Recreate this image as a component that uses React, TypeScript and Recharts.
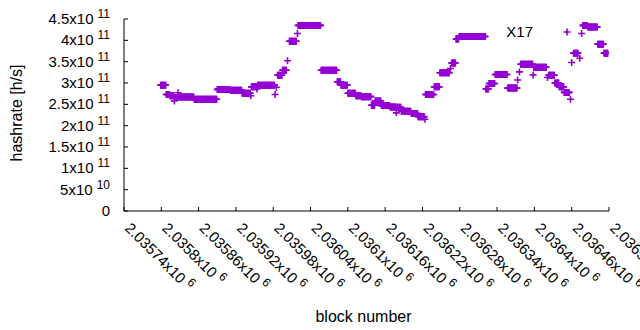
import { ScatterChart, Scatter, XAxis, YAxis, Legend } from "recharts";

const font = "'Liberation Sans', Arial, sans-serif";
const violet = "#9400d3";

const xTicks = [
  2035740, 2035800, 2035860, 2035920, 2035980, 2036040, 2036100, 2036160, 2036220, 2036280,
  2036340, 2036400, 2036460, 2036520,
];
const yTicks = [0, 5e10, 1e11, 1.5e11, 2e11, 2.5e11, 3e11, 3.5e11, 4e11, 4.5e11];

// runs of blocks that share one hashrate value
const runFirst = [
  2035799, 2035808, 2035814, 2035821, 2035822, 2035827, 2035828, 2035853, 2035890, 2035911,
  2035930, 2035944, 2035945, 2035954, 2035955, 2035983, 2035985, 2035987, 2035995, 2036003,
  2036006, 2036019, 2036020, 2036057, 2036083, 2036089, 2036100, 2036113, 2036122, 2036138,
  2036144, 2036154, 2036168, 2036178, 2036179, 2036186, 2036202, 2036213, 2036224, 2036225,
  2036239, 2036248, 2036265, 2036267, 2036274, 2036279, 2036322, 2036327, 2036337, 2036357,
  2036373, 2036376, 2036378, 2036398, 2036399, 2036421, 2036423, 2036433, 2036440, 2036448,
  2036458, 2036460, 2036463, 2036473, 2036476, 2036478, 2036486, 2036502, 2036512,
];
const runLast = [
  2035807, 2035813, 2035820, 2035821, 2035826, 2035827, 2035852, 2035889, 2035910, 2035929,
  2035943, 2035944, 2035953, 2035954, 2035982, 2035983, 2035985, 2035994, 2036001, 2036003,
  2036017, 2036019, 2036056, 2036082, 2036088, 2036099, 2036112, 2036121, 2036137, 2036143,
  2036153, 2036167, 2036177, 2036178, 2036185, 2036201, 2036212, 2036223, 2036224, 2036238,
  2036247, 2036263, 2036265, 2036273, 2036278, 2036321, 2036326, 2036336, 2036356, 2036372,
  2036373, 2036376, 2036397, 2036398, 2036419, 2036421, 2036432, 2036439, 2036447, 2036456,
  2036458, 2036460, 2036470, 2036473, 2036476, 2036485, 2036501, 2036511, 2036518,
];
const runRate = [
  2.95e11, 2.73e11, 2.7e11, 2.58e11, 2.66e11, 2.77e11, 2.67e11, 2.62e11, 2.85e11, 2.83e11,
  2.76e11, 2.7e11, 2.91e11, 2.86e11, 2.95e11, 2.73e11, 2.9e11, 3.18e11, 3.3e11, 3.52e11,
  3.98e11, 4.16e11, 4.35e11, 3.3e11, 3.03e11, 2.95e11, 2.76e11, 2.7e11, 2.68e11, 2.48e11,
  2.58e11, 2.47e11, 2.44e11, 2.3e11, 2.43e11, 2.34e11, 2.285e11, 2.21e11, 2.15e11, 2.73e11,
  2.91e11, 3.24e11, 3.34e11, 3.47e11, 4.03e11, 4.09e11, 2.86e11, 2.99e11, 3.2e11, 2.88e11,
  3.07e11, 3.26e11, 3.44e11, 3.19e11, 3.37e11, 3.13e11, 3.18e11, 3.0e11, 2.91e11, 2.78e11,
  2.62e11, 3.48e11, 3.7e11, 3.58e11, 4.16e11, 4.35e11, 4.31e11, 3.91e11, 3.7e11,
];

const points: { block: number; rate: number }[] = [];
runFirst.forEach((first, i) => {
  for (let b = first; b <= runLast[i]; b++) points.push({ block: b, rate: runRate[i] });
});

function sci(v: number): [string, string] {
  if (v === 0) return ["0", ""];
  const exp = Math.floor(Math.log10(v) + 1e-9);
  const mant = parseFloat((v / Math.pow(10, exp)).toFixed(6));
  return [String(mant), String(exp)];
}

const Plus = (p: any) => (
  <path
    d={`M${p.cx - 3.5},${p.cy}H${p.cx + 3.5}M${p.cx},${p.cy - 3.5}V${p.cy + 3.5}`}
    stroke={violet}
    strokeWidth={1.6}
    fill="none"
  />
);

function BottomTick({ x, y, payload }: any) {
  const [m, e] = sci(payload.value);
  const ty = y + 18;
  return (
    <g>
      <line x1={x} x2={x} y1={y} y2={y - 4} stroke="#000" />
      <text x={x} y={ty} transform={`rotate(45 ${x} ${ty})`} fontFamily={font} fontSize={15} fill="#000">
        {m}x10
        <tspan dx={4} dy={-6} fontSize={12}>
          {e}
        </tspan>
      </text>
    </g>
  );
}

function TopTick({ x, y }: any) {
  return <line x1={x} x2={x} y1={y} y2={y + 4} stroke="#000" />;
}

function LeftTick({ x, y, payload }: any) {
  const [m, e] = sci(payload.value);
  return (
    <g>
      <line x1={x} x2={x + 4} y1={y} y2={y} stroke="#000" />
      <text x={110} y={y + 5} textAnchor="end" fontFamily={font} fontSize={15} fill="#000">
        {m}
        {e && (
          <>
            x10
            <tspan dx={4} dy={-6} fontSize={12}>
              {e}
            </tspan>
          </>
        )}
      </text>
    </g>
  );
}

function RightTick({ x, y }: any) {
  return <line x1={x} x2={x - 4} y1={y} y2={y} stroke="#000" />;
}

function XTitle({ viewBox }: any) {
  return (
    <text x={viewBox.x + viewBox.width / 2 - 3} y={viewBox.y + 111} textAnchor="middle" fontFamily={font} fontSize={16} fill="#000">
      block number
    </text>
  );
}

function YTitle({ viewBox }: any) {
  const cy = viewBox.y + viewBox.height / 2 - 2;
  return (
    <text x={22} y={cy} transform={`rotate(-90 22 ${cy})`} textAnchor="middle" fontFamily={font} fontSize={16} fill="#000">
      hashrate [h/s]
    </text>
  );
}

function Key() {
  return (
    <svg width={100} height={24}>
      <text x={53} y={17} textAnchor="end" fontFamily={font} fontSize={15} fill="#000">
        X17
      </text>
      <path d="M83.5,12H90.5M87,8.5V15.5" stroke={violet} strokeWidth={1.6} fill="none" />
    </svg>
  );
}

export default function App() {
  return (
    <div style={{ position: "absolute", left: 0, top: 0, background: "#fff" }}>
      <ScatterChart width={640} height={330} margin={{ top: 19, right: 31, bottom: 0, left: 0 }}>
        <XAxis
          xAxisId="b"
          type="number"
          dataKey="block"
          domain={[2035740, 2036520]}
          ticks={xTicks}
          interval={0}
          height={119}
          tickSize={0}
          tickMargin={0}
          tick={<BottomTick />}
          axisLine={{ stroke: "#000" }}
          allowDataOverflow
          label={<XTitle />}
        />
        <XAxis
          xAxisId="t"
          orientation="top"
          type="number"
          domain={[2035740, 2036520]}
          ticks={xTicks}
          interval={0}
          height={0}
          tickSize={0}
          tickMargin={0}
          tick={<TopTick />}
          axisLine={{ stroke: "#000" }}
          allowDataOverflow
        />
        <YAxis
          yAxisId="l"
          type="number"
          dataKey="rate"
          domain={[0, 4.5e11]}
          ticks={yTicks}
          interval={0}
          width={124}
          tickSize={0}
          tickMargin={0}
          tick={<LeftTick />}
          axisLine={{ stroke: "#000" }}
          allowDataOverflow
          label={<YTitle />}
        />
        <YAxis
          yAxisId="r"
          orientation="right"
          type="number"
          domain={[0, 4.5e11]}
          ticks={yTicks}
          interval={0}
          width={0}
          tickSize={0}
          tickMargin={0}
          tick={<RightTick />}
          axisLine={{ stroke: "#000" }}
          allowDataOverflow
        />
        <Legend
          layout="vertical"
          align="center"
          verticalAlign="middle"
          wrapperStyle={{ left: 480, top: 20, width: 100, height: 24 }}
          content={<Key />}
        />
        <Scatter xAxisId="b" yAxisId="l" data={points} dataKey="rate" shape={<Plus />} isAnimationActive={false} />
      </ScatterChart>
    </div>
  );
}
